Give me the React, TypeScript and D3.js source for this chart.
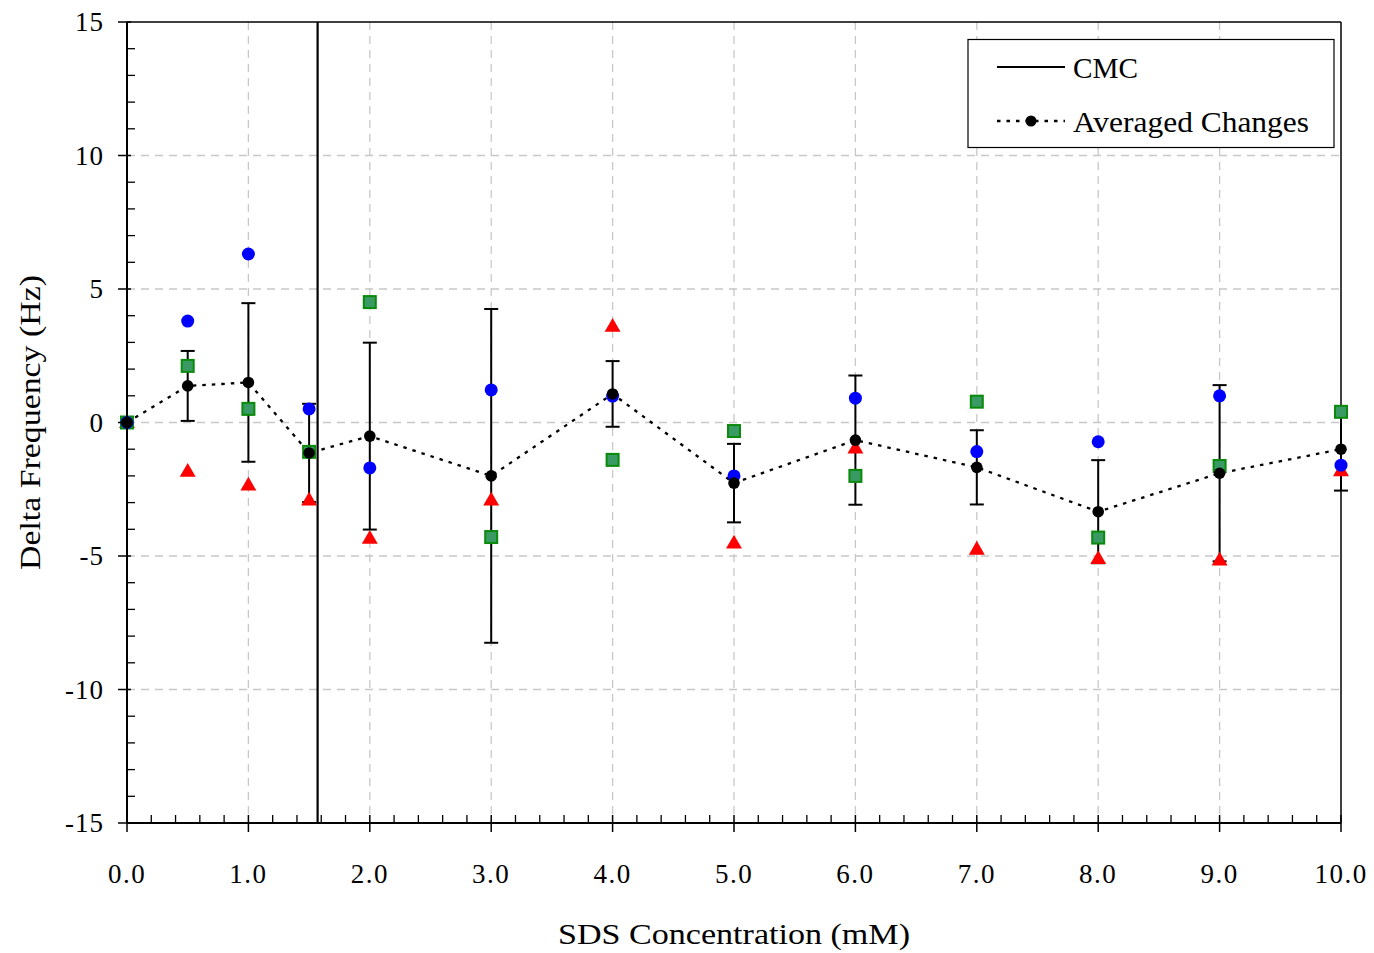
import React from "react";
import * as d3 from "d3";

// SDS concentration (mM)
const conc = [0, 0.5, 1.0, 1.5, 2.0, 3.0, 4.0, 5.0, 6.0, 7.0, 8.0, 9.0, 10.0];
// individual runs (Hz)
const runBlue = [0, 3.8, 6.31, 0.51, -1.7, 1.22, 0.99, -2.0, 0.91, -1.09, -0.72, 1.0, -1.6];
const runGreen = [0, 2.12, 0.51, -1.1, 4.51, -4.29, -1.4, -0.32, -2.0, 0.78, -4.31, -1.63, 0.4];
const runRed = [0, -1.82, -2.34, -2.9, -4.33, -2.9, 3.61, -4.51, -0.95, -4.74, -5.09, -5.15, -1.8];
// averaged changes and error bar half-widths
const avg = [0, 1.37, 1.5, -1.14, -0.51, -2.0, 1.07, -2.27, -0.66, -1.68, -3.34, -1.9, -1.0];
const err = [0, 1.31, 2.97, 1.84, 3.5, 6.25, 1.23, 1.47, 2.42, 1.39, 1.93, 3.3, 1.55];
const cmc = 1.57;

const xTicks = [0, 1, 2, 3, 4, 5, 6, 7, 8, 9, 10];
const yTicks = [-15, -10, -5, 0, 5, 10, 15];

const W = 1374;
const H = 953;
const m = { left: 127, right: 1341, top: 22, bottom: 823 };
const FONT = "'Liberation Serif', 'DejaVu Serif', serif";

export default function App() {
  const x = d3.scaleLinear().domain([0, 10]).range([m.left, m.right]);
  const y = d3.scaleLinear().domain([-15, 15]).range([m.bottom, m.top]);

  const xMinor = d3.range(0, 10.001, 0.2).filter((v) => Math.abs(v - Math.round(v)) > 0.01);
  const yMinor = d3.range(-15, 15.001, 1).filter((v) => v % 5 !== 0);

  const avgLine = d3
    .line<number>()
    .x((d, i) => x(conc[i]))
    .y((d) => y(d));

  const tri = d3.symbol().type(d3.symbolTriangle).size(110)();

  return (
    <svg width={W} height={H} style={{ position: "absolute", left: 0, top: 0 }} fontFamily={FONT}>
      <rect width={W} height={H} fill="#fff" />
      {/* grid */}
      {xTicks.slice(1, -1).map((t) => (
        <line key={"gx" + t} x1={x(t)} x2={x(t)} y1={m.top} y2={m.bottom} stroke="#c8c8c8" strokeWidth={1.3} strokeDasharray="8,6" />
      ))}
      {yTicks.slice(1, -1).map((t) => (
        <line key={"gy" + t} x1={m.left} x2={m.right} y1={y(t)} y2={y(t)} stroke="#c8c8c8" strokeWidth={1.3} strokeDasharray="8,6" />
      ))}

      {/* frame */}
      <line x1={m.left} x2={m.right} y1={m.top} y2={m.top} stroke="#000" strokeWidth={1.5} />
      <line x1={m.right} x2={m.right} y1={m.top} y2={m.bottom} stroke="#000" strokeWidth={1.5} />

      {/* CMC */}
      <line x1={x(cmc)} x2={x(cmc)} y1={m.top} y2={m.bottom} stroke="#000" strokeWidth={2.2} />

      {/* error bars */}
      {conc.map((c, i) =>
        err[i] > 0 ? (
          <g key={"e" + i} stroke="#000" strokeWidth={2}>
            <line x1={x(c)} x2={x(c)} y1={y(avg[i] + err[i])} y2={y(avg[i] - err[i])} />
            <line x1={x(c) - 7} x2={x(c) + 7} y1={y(avg[i] + err[i])} y2={y(avg[i] + err[i])} />
            <line x1={x(c) - 7} x2={x(c) + 7} y1={y(avg[i] - err[i])} y2={y(avg[i] - err[i])} />
          </g>
        ) : null
      )}

      {/* averaged line */}
      <path d={avgLine(avg) || ""} fill="none" stroke="#000" strokeWidth={2.3} strokeDasharray="3.5,6" />

      {/* individual runs */}
      {conc.map((c, i) => (
        <path key={"r" + i} d={tri || ""} transform={`translate(${x(c)},${y(runRed[i]) + 1})`} fill="#ff0000" />
      ))}
      {conc.map((c, i) => (
        <rect key={"g" + i} x={x(c) - 6} y={y(runGreen[i]) - 6} width={12} height={12} fill="#3a9a64" stroke="#0a8a0a" strokeWidth={2} />
      ))}
      {conc.map((c, i) => (
        <circle key={"b" + i} cx={x(c)} cy={y(runBlue[i])} r={6.5} fill="#0000ff" />
      ))}
      {conc.map((c, i) => (
        <circle key={"a" + i} cx={x(c)} cy={y(avg[i])} r={5.8} fill="#000" />
      ))}

      {/* axes */}
      <line x1={m.left} x2={m.left} y1={m.top} y2={m.bottom} stroke="#000" strokeWidth={2} />
      <line x1={m.left} x2={m.right} y1={m.bottom} y2={m.bottom} stroke="#000" strokeWidth={2} />
      {yTicks.map((t) => (
        <g key={"yt" + t}>
          <line x1={m.left - 9} x2={m.left + 4} y1={y(t)} y2={y(t)} stroke="#000" strokeWidth={1.5} />
          <text x={104} y={y(t)} dy="0.35em" textAnchor="end" fontSize={27} letterSpacing={1}>
            {t}
          </text>
        </g>
      ))}
      {yMinor.map((t) => (
        <line key={"ym" + t} x1={m.left} x2={m.left + 8} y1={y(t)} y2={y(t)} stroke="#000" strokeWidth={1.3} />
      ))}
      {xTicks.map((t) => (
        <g key={"xt" + t}>
          <line x1={x(t)} x2={x(t)} y1={m.bottom - 8} y2={m.bottom + 9} stroke="#000" strokeWidth={1.5} />
          <text x={x(t)} y={883} textAnchor="middle" fontSize={27} letterSpacing={1.5}>
            {t.toFixed(1)}
          </text>
        </g>
      ))}
      {xMinor.map((t) => (
        <line key={"xm" + t} x1={x(t)} x2={x(t)} y1={m.bottom - 8} y2={m.bottom} stroke="#000" strokeWidth={1.3} />
      ))}

      {/* axis titles */}
      <text x={558} y={944} fontSize={30} textLength={352} lengthAdjust="spacingAndGlyphs">
        SDS Concentration (mM)
      </text>
      <text transform={`translate(40,570) rotate(-90)`} fontSize={30} textLength={295} lengthAdjust="spacingAndGlyphs">
        Delta Frequency (Hz)
      </text>

      {/* legend */}
      <rect x={968} y={39.5} width={366} height={108} fill="#fff" stroke="#000" strokeWidth={1.2} />
      <line x1={997} x2={1065} y1={67} y2={67} stroke="#000" strokeWidth={2} />
      <text x={1073} y={78} fontSize={29} textLength={65} lengthAdjust="spacingAndGlyphs">
        CMC
      </text>
      <line x1={997} x2={1065} y1={121} y2={121} stroke="#000" strokeWidth={2.3} strokeDasharray="3.5,6" />
      <circle cx={1031} cy={121} r={5.5} fill="#000" />
      <text x={1073} y={132} fontSize={29} textLength={236} lengthAdjust="spacingAndGlyphs">
        Averaged Changes
      </text>
    </svg>
  );
}
